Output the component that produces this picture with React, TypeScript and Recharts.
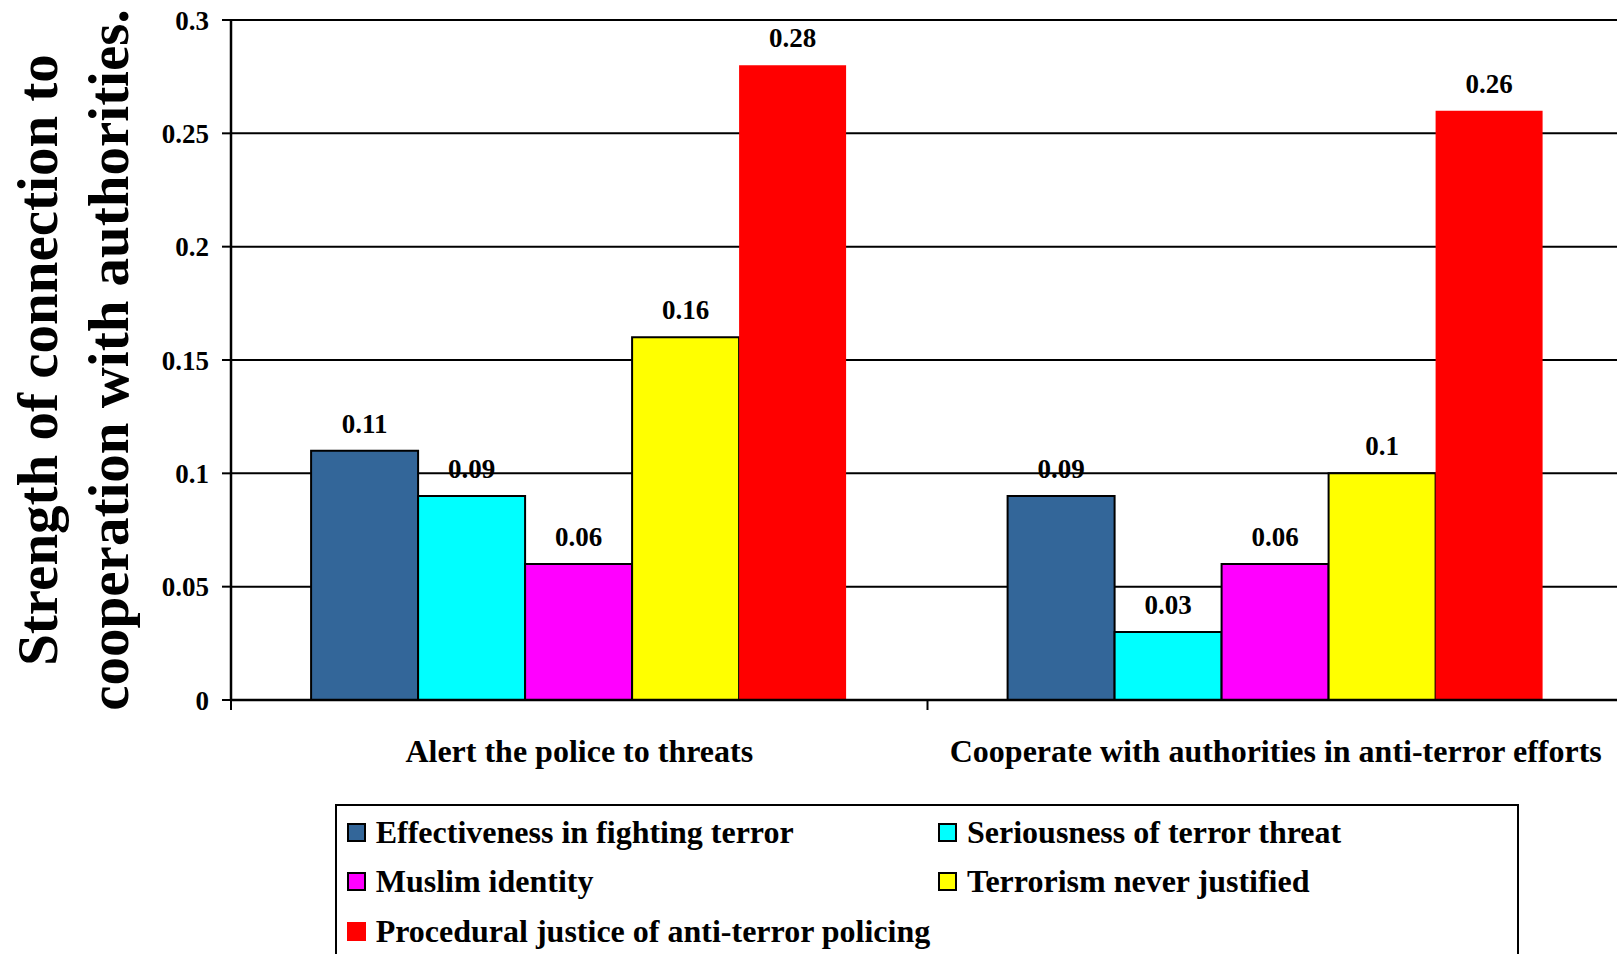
import React from "react";
import { BarChart, Bar, XAxis, YAxis, CartesianGrid, Legend, LabelList } from "recharts";

const FONT = '"Liberation Serif", "Times New Roman", serif';

const categories = ["Alert the police to threats", "Cooperate with authorities in anti-terror efforts"];
const effectiveness = [0.11, 0.09];
const seriousness = [0.09, 0.03];
const muslimIdentity = [0.06, 0.06];
const neverJustified = [0.16, 0.1];
const proceduralJustice = [0.28, 0.26];
const yTicks = [0, 0.05, 0.1, 0.15, 0.2, 0.25, 0.3];

const series = [
  { key: "effectiveness", name: "Effectiveness in fighting terror", fill: "#336699", stroke: "#000" },
  { key: "seriousness", name: "Seriousness of terror threat", fill: "#00FFFF", stroke: "#000" },
  { key: "muslimIdentity", name: "Muslim identity", fill: "#FF00FF", stroke: "#000" },
  { key: "neverJustified", name: "Terrorism never justified", fill: "#FFFF00", stroke: "#000" },
  { key: "proceduralJustice", name: "Procedural justice of anti-terror policing", fill: "#FF0000", stroke: "none" },
];

const data = categories.map((category, i) => ({
  category,
  effectiveness: effectiveness[i],
  seriousness: seriousness[i],
  muslimIdentity: muslimIdentity[i],
  neverJustified: neverJustified[i],
  proceduralJustice: proceduralJustice[i],
}));

// two-line rotated title on the value axis
function AxisTitle(props: any) {
  const vb = props.viewBox || { x: 0, y: 20, width: 231, height: 680 };
  const cy = vb.y + vb.height / 2;
  const style = { fontFamily: FONT, fontWeight: 700, fontSize: 57, fill: "#000" } as const;
  return (
    <g>
      <text x={57} y={cy} transform={`rotate(-90, 57, ${cy})`} textAnchor="middle" style={style}>
        Strength of connection to
      </text>
      <text x={128} y={cy} transform={`rotate(-90, 128, ${cy})`} textAnchor="middle" style={style}>
        cooperation with authorities.
      </text>
    </g>
  );
}

// category label plus a short tick at the left edge of each band
function CategoryTick(props: any) {
  const { x, y, payload } = props;
  const half = payload.offset ?? 348;
  const edge = payload.coordinate - half;
  return (
    <g>
      <line x1={edge} y1={y} x2={edge} y2={y + 10} stroke="#000" strokeWidth={2} />
      <text x={x} y={y + 62} textAnchor="middle" fill="#000" style={{ fontFamily: FONT, fontWeight: 700, fontSize: 32 }}>
        {payload.value}
      </text>
    </g>
  );
}

function LegendBox() {
  const rows = [28, 77, 127];
  const cols = [11.7, 603];
  return (
    <div
      style={{
        position: "relative",
        width: 1184,
        height: 150,
        boxSizing: "border-box",
        border: "2px solid #000",
        borderBottom: "none",
        background: "#fff",
      }}
    >
      {series.map((s, i) => (
        <div
          key={s.key}
          style={{
            position: "absolute",
            left: cols[i % 2] - 2,
            top: rows[Math.floor(i / 2)] - 2 - 18,
            height: 36,
            display: "flex",
            alignItems: "center",
            whiteSpace: "nowrap",
          }}
        >
          <span
            style={{
              display: "inline-block",
              width: 19,
              height: 19,
              boxSizing: "border-box",
              background: s.fill,
              border: s.stroke === "none" ? "none" : "2px solid #000",
              marginRight: 10,
            }}
          />
          <span style={{ fontFamily: FONT, fontWeight: 700, fontSize: 32, color: "#000", lineHeight: "36px" }}>
            {s.name}
          </span>
        </div>
      ))}
    </div>
  );
}

export default function App() {
  return (
    <div style={{ position: "absolute", left: 0, top: 0, width: 1617, height: 954, overflow: "hidden", background: "#fff" }}>
      <BarChart
        width={1624}
        height={954}
        data={data}
        margin={{ top: 20, right: 0, bottom: 0, left: 0 }}
        barCategoryGap="11.5%"
        barGap={0}
      >
        <CartesianGrid vertical={false} stroke="#000" strokeWidth={2} />
        <XAxis
          dataKey="category"
          height={104}
          interval={0}
          tickSize={0}
          tickMargin={0}
          tickLine={false}
          axisLine={{ stroke: "#000", strokeWidth: 2.5 }}
          tick={<CategoryTick />}
        />
        <YAxis
          width={231}
          domain={[0, 0.3]}
          ticks={yTicks}
          interval={0}
          tickSize={9}
          tickMargin={13}
          tickLine={{ stroke: "#000", strokeWidth: 2 }}
          axisLine={{ stroke: "#000", strokeWidth: 2.5 }}
          tick={{ fill: "#000", fontSize: 27, fontWeight: 700, fontFamily: FONT }}
          label={<AxisTitle />}
        />
        <Legend
          verticalAlign="bottom"
          content={() => <LegendBox />}
          wrapperStyle={{ left: 335, width: 1184, bottom: 0 }}
        />
        {series.map((s) => (
          <Bar
            key={s.key}
            dataKey={s.key}
            name={s.name}
            fill={s.fill}
            stroke={s.stroke}
            strokeWidth={2}
            isAnimationActive={false}
          >
            <LabelList
              dataKey={s.key}
              position="top"
              offset={18}
              fill="#000"
              fontSize={27}
              fontWeight={700}
              fontFamily={FONT}
            />
          </Bar>
        ))}
      </BarChart>
    </div>
  );
}
